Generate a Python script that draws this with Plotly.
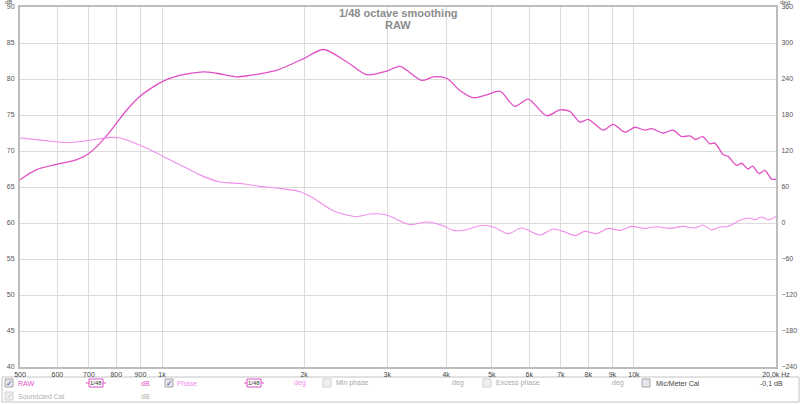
import plotly.graph_objects as go

# ---- data ----
spl_freq = [500, 542, 603, 660, 701, 739, 776, 801, 842, 898, 958, 1006, 1074, 1223, 1305, 1439,
            1536, 1693, 1749, 1992, 2196, 2461, 2714, 2992, 3193, 3549, 3756, 4009, 4277, 4564,
            4873, 5199, 5594, 5969, 6528, 6967, 7316, 7682, 7999, 8607, 9036, 9567, 10045, 10547,
            10897, 11532, 12109, 12616, 13137, 13527, 13977, 14483, 14841, 15454, 15835, 16498,
            16905, 17458, 17836, 18421, 18941, 19570, 20000]
spl_db = [66.0, 67.4, 68.2, 68.8, 69.7, 71.1, 72.7, 73.9, 75.7, 77.6, 78.9, 79.7, 80.4, 81.0, 80.8,
          80.3, 80.5, 81.0, 81.2, 82.8, 84.1, 82.4, 80.6, 81.1, 81.75, 79.8, 80.3, 80.1, 78.4, 77.4,
          77.8, 78.3, 76.2, 77.2, 74.9, 75.7, 75.5, 74.0, 74.4, 72.9, 73.7, 72.6, 73.3, 72.9,
          73.1, 72.5, 72.9, 72.0, 72.1, 71.6, 72.0, 71.0, 71.1, 69.5, 69.25, 68.0,
          68.3, 67.5, 67.9, 66.85, 67.3, 66.1, 66.1]

phase_freq = [500, 560, 618, 660, 715, 776, 814, 869, 943, 1006, 1109, 1223, 1327, 1486, 1612, 1749,
              1960, 2091, 2306, 2584, 2758, 2992, 3352, 3637, 3943, 4140, 4420, 4716, 5032, 5414,
              5780, 6319, 6743, 7080, 7497, 7871, 8334, 8819, 9336, 9885, 10547, 11166, 11916,
              12715, 13461, 14000, 14604, 15207, 15835, 16765, 17602, 18037, 18638, 19247, 20000]
phase_deg = [141.7, 137.7, 134.3, 135.0, 138.8, 142.7, 141.7, 134.3, 122.2, 111.0, 94.3, 77.7, 68.3,
             65.5, 61.0, 58.3, 52.2, 41.7, 20.5, 10.5, 15.0, 13.3, -2.8, 1.7, -4.5, -12.3, -11.2,
             -4.5, -6.7, -17.8, -8.3, -20.0, -10.0, -14.0, -21.0, -14.0, -17.8, -9.0, -12.3, -5.7,
             -9.0, -6.2, -9.0, -5.7, -8.3, -3.3, -11.2, -6.7, -5.7, 4.5, 8.3, 5.5, 10.0, 5.5, 11.0]

x_tickvals = [500, 600, 700, 800, 900, 1000, 2000, 3000, 4000, 5000, 6000, 7000, 8000, 9000, 10000, 20000]
x_ticktext = ["500", "600", "700", "800", "900", "1k", "2k", "3k", "4k", "5k", "6k", "7k", "8k", "9k",
              "10k", "20,0k Hz"]

SPL_COLOR = "#E050C4"
PHASE_COLOR = "#F28CEB"
W, H = 800, 404
L, R, T, B = 20, 24, 7, 37
PW, PH = W - L - R, H - T - B
FONT = "Liberation Sans, Arial, sans-serif"


def px(x):
    return (x - L) / PW


def py(y):
    return (H - B - y) / PH


fig = go.Figure()
fig.add_trace(go.Scatter(x=spl_freq, y=spl_db, mode="lines", line=dict(color=SPL_COLOR, width=1.3, shape="spline", smoothing=0.8),
                         name="RAW", showlegend=False, hoverinfo="skip"))
fig.add_trace(go.Scatter(x=phase_freq, y=phase_deg, mode="lines", yaxis="y2",
                         line=dict(color=PHASE_COLOR, width=1.1, shape="spline", smoothing=0.8),
                         name="Phase", showlegend=False, hoverinfo="skip"))

fig.update_layout(
    width=W, height=H, margin=dict(l=L, r=R, t=T, b=B, autoexpand=False),
    paper_bgcolor="white", plot_bgcolor="white",
    font=dict(family=FONT, size=7, color="#555"),
    xaxis=dict(type="log", range=[2.69897, 4.30103], tickvals=x_tickvals, ticktext=x_ticktext,
               showgrid=True, gridcolor="#dcdcdc", gridwidth=1, showline=True, linecolor="#bdbdbd",
               linewidth=2, mirror=True, ticks="", tickfont=dict(size=7, color="#444"), zeroline=False,
               ticklabelstandoff=0, automargin=False),
    yaxis=dict(range=[40, 90], dtick=5, showgrid=True, gridcolor="#dcdcdc", gridwidth=1, showline=True,
               linecolor="#bdbdbd", linewidth=2, ticks="", tickfont=dict(size=7, color="#555"),
               zeroline=False, ticklabelstandoff=2, automargin=False),
    yaxis2=dict(range=[-240, 360], dtick=60, overlaying="y", side="right", showgrid=False,
                showline=True, linecolor="#bdbdbd", linewidth=2, ticks="", zeroline=False,
                tickfont=dict(size=7, color="#555"), ticklabelstandoff=2, automargin=False),
)

ann = []
shapes = []


def text(x, y, s, color="#555", size=7, xanchor="left", bold=False):
    if bold:
        s = "<b>" + s + "</b>"
    ann.append(dict(x=px(x), y=py(y), xref="paper", yref="paper", text=s, showarrow=False,
                    xanchor=xanchor, yanchor="middle", font=dict(family=FONT, size=size, color=color)))


# title
text(398, 13, "1/48 octave smoothing", color="#8c8c8c", size=11, xanchor="center", bold=True)
text(398, 25, "RAW", color="#8c8c8c", size=11, xanchor="center", bold=True)
# axis units
text(3, 2, "dB", size=6)
text(778, 2, "deg", size=6)

# legend panel
shapes.append(dict(type="rect", xref="paper", yref="paper", x0=px(2), x1=px(799), y0=py(377), y1=py(402),
                   line=dict(color="#c4c4c4", width=1), fillcolor="white", layer="below"))


def checkbox(x, y, checked=True, enabled=True):
    shapes.append(dict(type="rect", xref="paper", yref="paper", x0=px(x), x1=px(x + 8), y0=py(y - 4),
                       y1=py(y + 4), line=dict(color="#a8a8a8" if enabled else "#d0d0d0", width=1),
                       fillcolor="#e6e6ee" if enabled else "#f0f0f0"))
    if checked:
        text(x + 4, y, "✓", color="#3a4a8a" if enabled else "#c8c8c8", size=8, xanchor="center")


def smoother(x, y):
    shapes.append(dict(type="line", xref="paper", yref="paper", x0=px(x), x1=px(x + 20), y0=py(y), y1=py(y),
                       line=dict(color=SPL_COLOR, width=1)))
    shapes.append(dict(type="rect", xref="paper", yref="paper", x0=px(x + 3), x1=px(x + 17), y0=py(y - 4),
                       y1=py(y + 4), line=dict(color=SPL_COLOR, width=1), fillcolor="white"))
    text(x + 10, y, "1/48", color="#333", size=6, xanchor="center")


r1, r2 = 383, 396
checkbox(5, r1)
text(16, r1, "RAW", color=SPL_COLOR)
smoother(86, r1)
text(139, r1, "dB", color=SPL_COLOR)
checkbox(165, r1)
text(175, r1, "Phase", color=PHASE_COLOR)
smoother(244, r1)
text(292, r1, "deg", color=PHASE_COLOR)
checkbox(323, r1, checked=False, enabled=False)
text(334, r1, "Min phase", color="#a8a8a8")
text(450, r1, "deg", color="#a8a8a8")
checkbox(483, r1, checked=False, enabled=False)
text(494, r1, "Excess phase", color="#a8a8a8")
text(610, r1, "deg", color="#a8a8a8")
checkbox(642, r1, checked=False, enabled=True)
text(654, r1, "Mic/Meter Cal", color="#444")
text(758, r1, "-0,1 dB", color="#444")
checkbox(5, r2, checked=True, enabled=False)
text(16, r2, "Soundcard Cal", color="#b0b0b0")
text(139, r2, "dB", color="#b0b0b0")

fig.update_layout(annotations=ann, shapes=shapes)
fig.write_html("out.html", config={"displayModeBar": False},
               post_script="document.body.style.margin='0';document.body.style.overflow='hidden';")
